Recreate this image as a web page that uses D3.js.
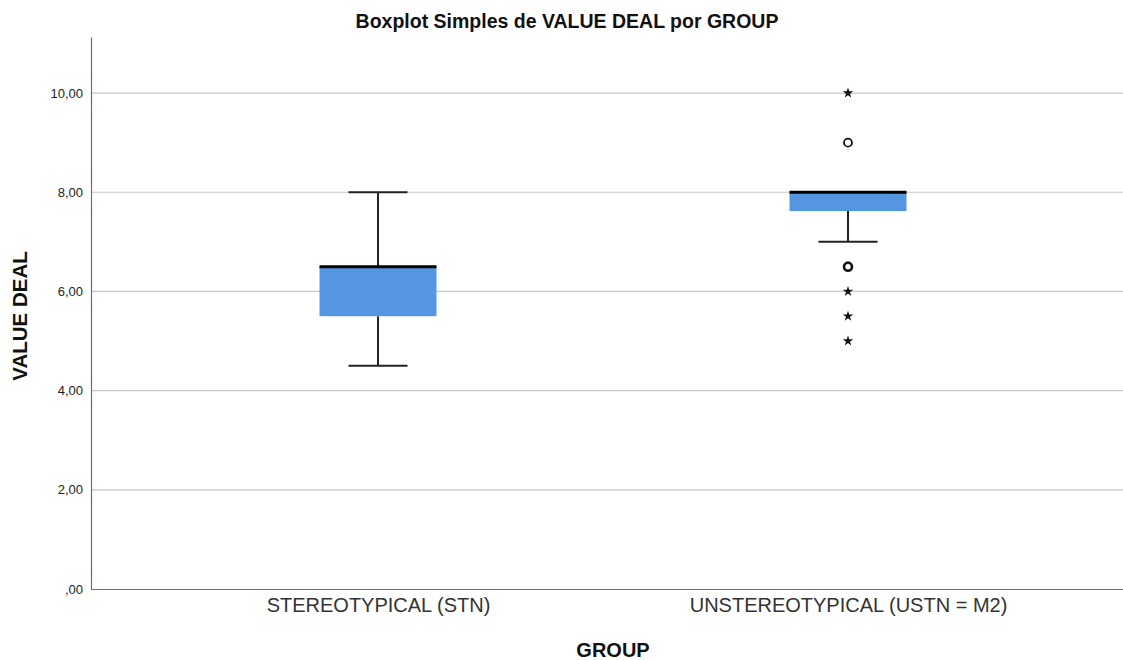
<!DOCTYPE html>
<html>
<head>
<meta charset="utf-8">
<script src="https://cdn.jsdelivr.net/npm/d3@7"></script>
<style>
  body { margin: 0; background: #fff; }
  text { font-family: Arial, "Liberation Sans", sans-serif; }
</style>
</head>
<body>
<div id="chart"></div>
<script>
// Data
const groups = ["STEREOTYPICAL (STN)", "UNSTEREOTYPICAL (USTN = M2)"];
const boxStats = [
  { group: "STEREOTYPICAL (STN)", min: 4.5, q1: 5.5, median: 6.5, q3: 6.5, max: 8 },
  { group: "UNSTEREOTYPICAL (USTN = M2)", min: 7, q1: 7.62, median: 8, q3: 8, max: 8 }
];
const outliers = [
  { group: "UNSTEREOTYPICAL (USTN = M2)", value: 10, type: "extreme" },
  { group: "UNSTEREOTYPICAL (USTN = M2)", value: 9, type: "outlier" },
  { group: "UNSTEREOTYPICAL (USTN = M2)", value: 6.5, type: "outlier" },
  { group: "UNSTEREOTYPICAL (USTN = M2)", value: 6, type: "extreme" },
  { group: "UNSTEREOTYPICAL (USTN = M2)", value: 5.5, type: "extreme" },
  { group: "UNSTEREOTYPICAL (USTN = M2)", value: 5, type: "extreme" }
];
const yTicks = [0, 2, 4, 6, 8, 10];

const W = 1123, H = 660;
const margin = { top: 37, right: 0, bottom: 71, left: 91 };
const width = W - margin.left - margin.right;
const height = H - margin.top - margin.bottom;

const svg = d3.select("#chart").append("svg")
  .attr("width", W).attr("height", H);

const g = svg.append("g")
  .attr("transform", `translate(${margin.left},${margin.top})`);

// scales
const x = d3.scalePoint()
  .domain(groups)
  .range([287, 757]);

const y = d3.scaleLinear()
  .domain([0, 11.13])
  .range([height, 0]);

// gridlines
g.selectAll(".grid")
  .data(yTicks.filter(d => d > 0))
  .enter().append("line")
  .attr("x1", 0).attr("x2", width)
  .attr("y1", d => y(d)).attr("y2", d => y(d))
  .attr("stroke", "#c8c8c8")
  .attr("stroke-width", 1.2);

// y axis
const yAxis = g.append("g")
  .call(d3.axisLeft(y).tickValues(yTicks).tickSize(0).tickPadding(8)
    .tickFormat(d => d === 0 ? ",00" : d3.format(".2f")(d).replace(".", ",")));
yAxis.select(".domain").attr("stroke", "#6e6e6e").attr("stroke-width", 1.2);
yAxis.selectAll("text").attr("font-size", 13).attr("fill", "#222")
  .style("font-family", "Arial, 'Liberation Sans', sans-serif");

// x axis
const xAxis = g.append("g")
  .attr("transform", `translate(0,${height})`)
  .call(d3.axisBottom(x).tickSize(0).tickPadding(9));
xAxis.select(".domain").attr("d", `M0,0.5H${width}`).attr("stroke", "#6e6e6e").attr("stroke-width", 1.2);
xAxis.selectAll("text").attr("font-size", 20).attr("fill", "#333")
  .style("font-family", "Arial, 'Liberation Sans', sans-serif");

const boxW = 117, capW = 59;

boxStats.forEach(s => {
  const cx = x(s.group);
  // whiskers
  g.append("line")
    .attr("x1", cx).attr("x2", cx)
    .attr("y1", y(s.min)).attr("y2", y(s.q1))
    .attr("stroke", "#222").attr("stroke-width", 2);
  g.append("line")
    .attr("x1", cx).attr("x2", cx)
    .attr("y1", y(s.q3)).attr("y2", y(s.max))
    .attr("stroke", "#222").attr("stroke-width", 2);
  // caps (none when the whisker has zero length)
  [s.min, s.max].forEach(v => {
    if (v === s.max && s.max === s.q3) return;
    g.append("line")
      .attr("x1", cx - capW / 2).attr("x2", cx + capW / 2)
      .attr("y1", y(v)).attr("y2", y(v))
      .attr("stroke", "#222").attr("stroke-width", 2);
  });
  // box
  g.append("rect")
    .attr("x", cx - boxW / 2)
    .attr("y", y(s.q3))
    .attr("width", boxW)
    .attr("height", y(s.q1) - y(s.q3))
    .attr("fill", "#5596e3");
  // median
  g.append("line")
    .attr("x1", cx - boxW / 2).attr("x2", cx + boxW / 2)
    .attr("y1", y(s.median)).attr("y2", y(s.median))
    .attr("stroke", "#000").attr("stroke-width", 3);
});

// outliers: circles, extremes: stars
outliers.forEach(o => {
  const cx = x(o.group), cy = y(o.value);
  if (o.type === "outlier") {
    g.append("circle")
      .attr("cx", cx).attr("cy", cy).attr("r", 4)
      .attr("fill", "#fff")
      .attr("stroke", "#111")
      .attr("stroke-width", o.value === 6.5 ? 2.6 : 1.8);
  } else {
    g.append("path")
      .attr("transform", `translate(${cx},${cy})`)
      .attr("d", d3.symbol().type(d3.symbolStar).size(34)())
      .attr("fill", "#111");
  }
});

// title
svg.append("text")
  .attr("x", 567).attr("y", 28)
  .attr("text-anchor", "middle")
  .attr("font-size", 19.5).attr("font-weight", "bold")
  .attr("fill", "#111")
  .text("Boxplot Simples de VALUE DEAL por GROUP");

// axis labels
svg.append("text")
  .attr("transform", "rotate(-90)")
  .attr("x", -316).attr("y", 27)
  .attr("text-anchor", "middle")
  .attr("font-size", 20.5).attr("font-weight", "bold")
  .attr("fill", "#111")
  .text("VALUE DEAL");

svg.append("text")
  .attr("x", margin.left + x(groups[0]) + (x(groups[1]) - x(groups[0])) / 2)
  .attr("y", 657)
  .attr("text-anchor", "middle")
  .attr("font-size", 20).attr("font-weight", "bold")
  .attr("fill", "#111")
  .text("GROUP");
</script>
</body>
</html>
